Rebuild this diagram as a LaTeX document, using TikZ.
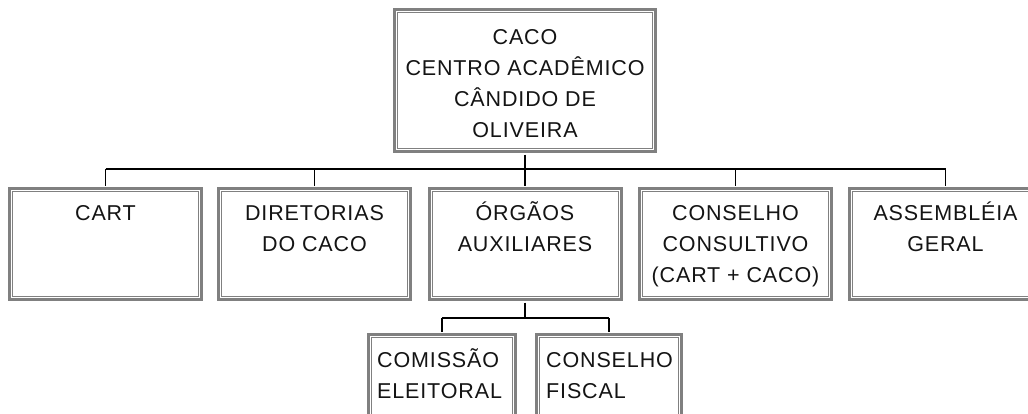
\documentclass[tikz,border=0pt]{standalone}
\usepackage{fontspec}
\setmainfont{Liberation Sans}[LetterSpace=4]
\definecolor{boxgray}{RGB}{128,128,128}
\definecolor{txtcol}{RGB}{20,20,20}
\newcommand\mystrut{\rule{0pt}{20pt}}
\begin{document}
\begin{tikzpicture}[x=1pt,y=-1pt,
  box/.style={draw=boxgray, line width=3pt, inner sep=0pt, minimum height=111pt, minimum width=192pt,
    path picture={\draw[boxgray,line width=1pt]
      ([shift={(3pt,-3pt)}]path picture bounding box.north west) rectangle
      ([shift={(-3pt,3pt)}]path picture bounding box.south east);}},
  conn/.style={draw=black, line width=1.2pt},
  txt/.style={inner sep=0pt, anchor=north, align=center, text=txtcol,
    font=\fontsize{21.5}{31}\selectfont},
  txtl/.style={txt, anchor=north west, align=left}]
\useasboundingbox (0,0) rectangle (1028,413);
\fill[white] (0,0) rectangle (1028,413);
% boxes
\node[box, minimum width=261pt, minimum height=142pt] (caco) at (525,80.5) {};
\node[box] (cart) at (105.5,244) {};
\node[box] (dir)  at (314.5,244) {};
\node[box] (org)  at (525,244) {};
\node[box] (cons) at (735.5,244) {};
\node[box] (ass)  at (945.5,244) {};
\node[box, minimum width=147pt, minimum height=96pt] (com) at (442,382.5) {};
\node[box, minimum width=145pt, minimum height=96pt] (fis) at (609,382.5) {};
% connectors
\coordinate (busL) at (105.5,169);
\coordinate (busR) at (945.5,169);
\draw[conn, shorten <=1.5pt] (caco.south) -- (caco.south |- busL);
\draw[conn] (busL) -- (busR);
\foreach \n in {cart,dir,org,cons,ass}
  \draw[conn, shorten >=1.5pt] (\n.north |- busL) -- (\n.north);
\coordinate (bus2L) at (442,318);
\coordinate (bus2R) at (609,318);
\draw[conn, shorten <=1.5pt] (org.south) -- (org.south |- bus2L);
\draw[conn] (bus2L) -- (bus2R);
\foreach \n in {com,fis}
  \draw[conn, shorten >=1.5pt] (\n.north |- bus2L) -- (\n.north);
% texts
\node[txt] (tcaco) at (525,24.5) {\mystrut CACO\\CENTRO ACADÊMICO\\CÂNDIDO DE\\OLIVEIRA};
\node[txt] (tcart) at (105.5,200) {\mystrut CART};
\node[txt] (tdir)  at (314.5,200) {\mystrut DIRETORIAS\\DO CACO};
\node[txt] (torg)  at (525,200) {\mystrut ÓRGÃOS\\AUXILIARES};
\node[txt] (tcons) at (735.5,200) {\mystrut CONSELHO\\CONSULTIVO\\(CART + CACO)};
\node[txt] (tass)  at (945.5,200) {\mystrut ASSEMBLÉIA\\GERAL};
\node[txtl] (tcom) at (377,347) {\mystrut COMISSÃO\\ELEITORAL};
\node[txtl] (tfis) at (546,347) {\mystrut CONSELHO\\FISCAL};
\end{tikzpicture}
\end{document}
